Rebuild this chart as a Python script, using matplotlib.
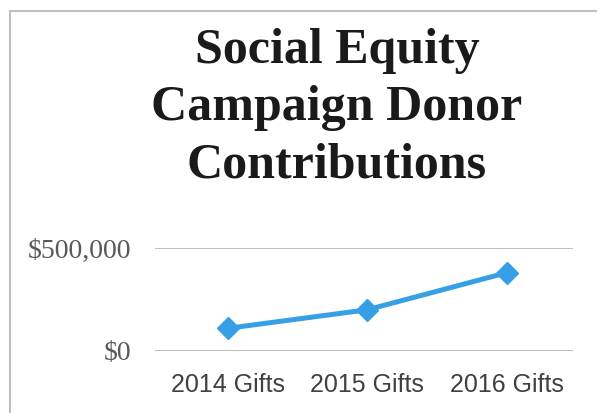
import matplotlib.pyplot as plt
from matplotlib.lines import Line2D
from matplotlib.ticker import FuncFormatter

# ---------- data ----------
categories = ["2014 Gifts", "2015 Gifts", "2016 Gifts"]
gifts = [110000, 200000, 380000]
y_ticks = [0, 500000]
title_lines = ["Social Equity", "Campaign Donor", "Contributions"]

LINE_COLOR = "#36A0E6"
GRID_COLOR = "#BFBFBF"

fig = plt.figure(figsize=(5.97, 4.13), dpi=100)
ax = fig.add_axes([155 / 597, 62 / 413, 418 / 597, 103 / 413])

x = range(len(categories))
ax.plot(x, gifts, color=LINE_COLOR, lw=3.6, marker="D", ms=11,
        solid_capstyle="round", zorder=3)

ax.set_xlim(-0.52, len(categories) - 0.525)
ax.set_ylim(0, 500000)
ax.set_xticks(list(x))
ax.set_xticklabels(categories, family="Liberation Sans", fontsize=18,
                   color="#404040")
ax.set_yticks(y_ticks)
ax.yaxis.set_major_formatter(FuncFormatter(lambda v, p: f"${v:,.0f}"))
for lab in ax.get_yticklabels():
    lab.set_family("Liberation Serif")
    lab.set_fontsize(20)
    lab.set_color("#595959")

ax.tick_params(axis="both", length=0)
ax.tick_params(axis="y", pad=17)
ax.tick_params(axis="x", pad=16)
ax.grid(axis="y", color=GRID_COLOR, lw=1.5)
for s in ax.spines.values():
    s.set_visible(False)

# title, one line at a time
for i, line in enumerate(title_lines):
    fig.text(337 / 597, 1 - (63 + 57 * i) / 413, line, ha="center",
             va="baseline", family="Liberation Serif", weight="bold",
             fontsize=36, color="#1a1a1a")

# chart frame (only left and top edge show)
fig.add_artist(Line2D([10 / 597, 10 / 597], [0, 1 - 11 / 413],
                      color=GRID_COLOR, lw=1.5, transform=fig.transFigure))
fig.add_artist(Line2D([10 / 597, 1], [1 - 11 / 413, 1 - 11 / 413],
                      color=GRID_COLOR, lw=1.5, transform=fig.transFigure))

fig.savefig("out.png", dpi=100)
